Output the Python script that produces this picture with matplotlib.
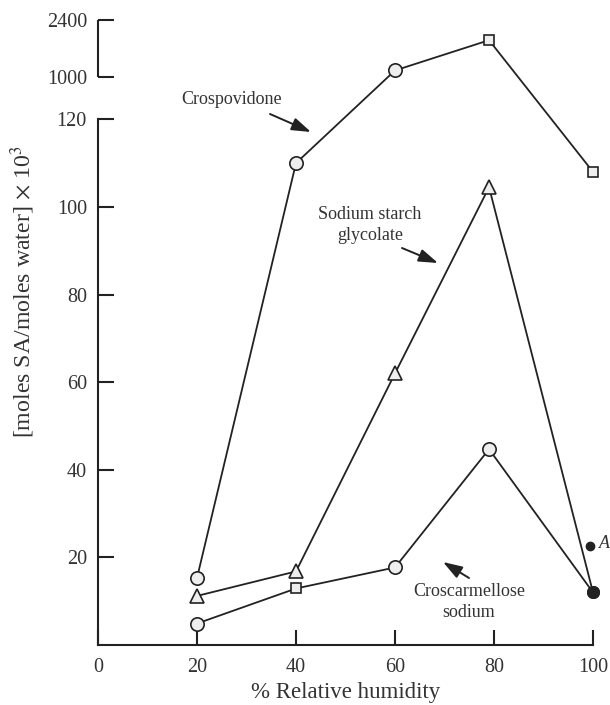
import numpy as np
import matplotlib
matplotlib.use("Agg")
import matplotlib.pyplot as plt

# ---- data ----
rh = [20, 40, 60, 79, 100]
crospovidone = [15.3, 110, 1150, 1900, 108]
sodium_starch_glycolate = [11.2, 16.8, 62, 104.5, 12]
croscarmellose_sodium = [4.9, 12.9, 17.7, 44.7, 12]
point_A_x = [99.4]
point_A_y = [22.6]
ytick_values = [20, 40, 60, 80, 100, 120, 1000, 2400]
xtick_values = [0, 20, 40, 60, 80, 100]

# ---- styles ----
crosp_markers = ['o', 'o', 'o', 's', 's']
ssg_markers = ['^', '^', '^', '^', 'filled']
cros_markers = ['o', 's', 'o', 'o', 'filled']

INK = '#222222'
FILL = '#eeeeee'
plt.rcParams['font.family'] = ['Liberation Serif', 'DejaVu Serif']
plt.rcParams['mathtext.fontset'] = 'stix'

# broken axis scale: 0-120 linear, gap, 1000-2400 compressed
GAP = 9.77
K = 12.9 / 1400.0


def fwd(y):
    y = np.asarray(y, dtype=float)
    return np.where(y <= 120, y,
                    np.where(y >= 1000, 120 + GAP + (y - 1000) * K,
                             120 + (y - 120) * GAP / 880.0))


def inv(d):
    d = np.asarray(d, dtype=float)
    return np.where(d <= 120, d,
                    np.where(d >= 120 + GAP, 1000 + (d - 120 - GAP) / K,
                             120 + (d - 120) * 880.0 / GAP))


W, H = 610, 705
fig = plt.figure(figsize=(W / 100, H / 100), dpi=100)
ax = fig.add_axes([98 / W, 60 / H, 495 / W, 625 / H])
ax.set_yscale('function', functions=(fwd, inv))
ax.set_xlim(0, 100)
ax.set_ylim(0, 2400)


def draw_series(x, y, markers):
    ax.plot(x, y, color=INK, lw=1.3, zorder=2, clip_on=False)
    for xi, yi, m in zip(x, y, markers):
        if m == 'o':
            ax.plot(xi, yi, marker='o', ms=9.6, mfc=FILL, mec=INK, mew=1.2,
                    zorder=3, clip_on=False)
        elif m == 's':
            ax.plot(xi, yi, marker='s', ms=7.2, mfc=FILL, mec=INK, mew=1.2,
                    zorder=3, clip_on=False)
        elif m == '^':
            ax.plot(xi, yi, marker='^', ms=9.5, mfc=FILL, mec=INK, mew=1.2,
                    zorder=3, clip_on=False)
        elif m == 'filled':
            ax.plot(xi, yi, marker='o', ms=8.4, mfc=INK, mec=INK, mew=1.0,
                    zorder=4, clip_on=False)


draw_series(rh, crospovidone, crosp_markers)
draw_series(rh, sodium_starch_glycolate, ssg_markers)
draw_series(rh, croscarmellose_sodium, cros_markers)
ax.plot(point_A_x, point_A_y, 'o', ms=6, color=INK, clip_on=False, zorder=4)

# axes styling
for s in ['top', 'right']:
    ax.spines[s].set_visible(False)
for s in ['left', 'bottom']:
    ax.spines[s].set_linewidth(1.5)
    ax.spines[s].set_color(INK)
ax.spines['left'].set_bounds(0, 120)
ax.plot([0, 0], [1000, 2400], color=INK, lw=1.5, solid_capstyle='butt',
        transform=ax.get_yaxis_transform(), clip_on=False)

ax.set_yticks(ytick_values)
ax.set_yticklabels([str(v) for v in ytick_values])
ax.set_xticks(xtick_values)
ax.set_xticklabels([str(v) for v in xtick_values])
ax.minorticks_off()
ax.tick_params(axis='y', direction='in', length=11.5, width=1.5, color=INK,
               labelsize=14.5, labelcolor='#333333', pad=8)
ax.tick_params(axis='x', direction='in', length=11, width=1.5, color=INK,
               labelsize=14.5, labelcolor='#333333', pad=9)

ax.set_xlabel('% Relative humidity', fontsize=16.5, color='#333333', labelpad=4)
ax.set_ylabel(r'[moles SA/moles water] $\times$ 10$^3$', fontsize=17.2,
              color='#333333')
ax.yaxis.set_label_coords(-0.123, 0.565)


def fp(x, y):
    return (x / W, 1 - y / H)


arrow = dict(arrowstyle='-|>,head_length=0.9,head_width=0.3', color=INK,
             lw=1.4, shrinkA=0, shrinkB=0)
ann_kw = dict(xycoords='figure fraction', textcoords='figure fraction',
              fontsize=13, color='#333333')

ax.annotate('', xy=fp(311, 132), xytext=fp(270, 114), arrowprops=arrow, **ann_kw)
fig.text(*fp(232, 100), 'Crospovidone', ha='center', va='center',
         fontsize=13, color='#333333')

ax.annotate('', xy=fp(438, 263), xytext=fp(402, 248), arrowprops=arrow, **ann_kw)
fig.text(*fp(370, 225), 'Sodium starch\nglycolate', ha='center', va='center',
         fontsize=13, color='#333333', linespacing=1.3)

ax.annotate('', xy=fp(443, 562), xytext=fp(469, 578), arrowprops=arrow, **ann_kw)
fig.text(*fp(469, 602), 'Croscarmellose\nsodium', ha='center', va='center',
         fontsize=13, color='#333333', linespacing=1.3)

fig.text(*fp(599, 544), 'A', ha='left', va='center', fontsize=13,
         color='#333333', style='italic')

fig.savefig('out.png', dpi=100)
